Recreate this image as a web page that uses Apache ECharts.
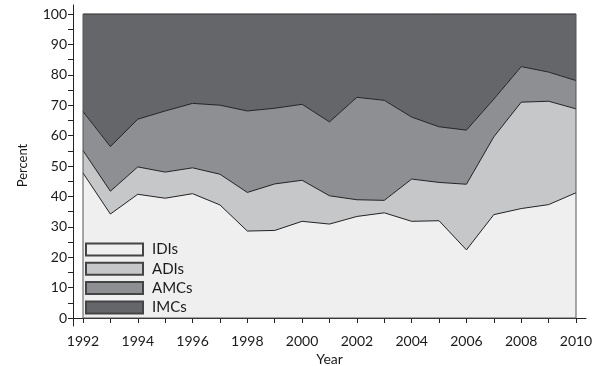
<!DOCTYPE html>
<html>
<head>
<meta charset="utf-8">
<script src="https://cdn.jsdelivr.net/npm/echarts@6/dist/echarts.min.js"></script>
<style>html,body{margin:0;padding:0;background:#fff;overflow:hidden}#c{width:604px;height:366px}</style>
</head>
<body>
<div id="c"></div>
<script>
const years = [1992,1993,1994,1995,1996,1997,1998,1999,2000,2001,2002,2003,2004,2005,2006,2007,2008,2009,2010];
const idis = [47.7,34.2,40.7,39.4,40.9,37.2,28.6,28.8,31.8,30.9,33.4,34.6,31.8,32.0,22.4,34.0,36.0,37.3,41.2];
const adis = [7.4,7.5,9.0,8.6,8.5,10.1,12.7,15.3,13.5,9.3,5.5,4.1,13.9,12.6,21.6,25.6,35.0,34.0,27.6];
const amcs = [12.8,14.7,15.7,20.1,21.2,22.7,26.8,24.9,25.0,24.3,33.7,32.9,20.4,18.3,17.8,12.4,11.7,9.6,9.3];
const imcs = [32.1,43.6,34.6,31.9,29.4,30.0,31.9,31.0,29.7,35.5,27.4,28.4,33.9,37.1,38.2,28.0,17.3,19.1,21.9];
const xTickValues = years;
const xLabelValues = [1992,1994,1996,1998,2000,2002,2004,2006,2008,2010];
const yTickValues = [0,5,10,15,20,25,30,35,40,45,50,55,60,65,70,75,80,85,90,95,100];
const yLabelValues = [0,10,20,30,40,50,60,70,80,90,100];

const FONT = 'Lato';
const colors = {IDIs:'#efefef', ADIs:'#c6c7c9', AMCs:'#8e8f92', IMCs:'#65666a'};

const gL = 83, gR = 576, gT = 14, gB = 318;
const aL = 73, aR = 586, aT = 5, aB = 326;
const pxYear = (gR - gL) / (years[years.length-1] - years[0]);
const pxPct = (gB - gT) / 100;
const axMin = years[0] - (gL - aL) / pxYear;
const axMax = years[years.length-1] + (aR - gR) / pxYear;
const ayMin = 0 - (aB - gB) / pxPct;
const ayMax = 100 + (gT - aT) / pxPct;

function mk(name, arr){
  return {
    name, type:'line', stack:'total', xAxisIndex:0, yAxisIndex:0,
    data: arr.slice(),
    symbol:'none', smooth:false,
    lineStyle:{color:'#222', width:1},
    areaStyle:{color:colors[name], opacity:1},
    itemStyle:{color:colors[name], borderColor:'#444', borderWidth:1.5},
    emphasis:{disabled:true}, silent:true, animation:false
  };
}

const gridBase = {containLabel:false, outerBoundsMode:'none'};
const chart = echarts.init(document.getElementById('c'), null, {renderer:'canvas'});
chart.setOption({
  animation:false,
  backgroundColor:'#fff',
  grid:[
    Object.assign({left:gL, top:gT, width:gR-gL, height:gB-gT, show:false}, gridBase),
    Object.assign({left:aL, top:aT, width:aR-aL, height:aB-aT, show:false}, gridBase),
    Object.assign({left:gL, top:gT, width:gR-gL, height:gB-gT, show:true, borderColor:'#555', borderWidth:1, backgroundColor:'transparent', z:10}, gridBase)
  ],
  xAxis:[
    {type:'category', gridIndex:0, data:years.map(String), boundaryGap:false, show:false},
    {type:'value', gridIndex:1, min:axMin, max:axMax,
      axisLine:{show:true, lineStyle:{color:'#222', width:1}},
      axisTick:{show:true, length:5, lineStyle:{color:'#222'}, customValues:xTickValues},
      axisLabel:{customValues:xLabelValues, color:'#1a1a1a', fontFamily:FONT, fontSize:14, margin:8, formatter:v=>String(v)},
      splitLine:{show:false},
      name:'Year', nameLocation:'middle', nameGap:24,
      nameTextStyle:{color:'#1a1a1a', fontFamily:FONT, fontSize:14}
    },
    {type:'value', gridIndex:2, min:0, max:1, show:false}
  ],
  yAxis:[
    {type:'value', gridIndex:0, min:0, max:100, show:false},
    {type:'value', gridIndex:1, min:ayMin, max:ayMax,
      axisLine:{show:true, lineStyle:{color:'#222', width:1}},
      axisTick:{show:true, length:5, lineStyle:{color:'#222'}, customValues:yTickValues},
      axisLabel:{customValues:yLabelValues, color:'#1a1a1a', fontFamily:FONT, fontSize:14, margin:6, formatter:v=>String(v)},
      splitLine:{show:false},
      name:'Percent', nameLocation:'middle', nameGap:44, nameRotate:90,
      nameTextStyle:{color:'#1a1a1a', fontFamily:FONT, fontSize:13}
    },
    {type:'value', gridIndex:2, min:0, max:1, show:false}
  ],
  legend:{
    show:true, orient:'vertical', left:85, top:242, padding:0,
    itemWidth:57, itemHeight:12, itemGap:4.3,
    icon:'rect',
    data:['IDIs','ADIs','AMCs','IMCs'],
    textStyle:{color:'#1a1a1a', fontFamily:FONT, fontSize:15, padding:[0,0,0,4]},
    selectedMode:false, z:12
  },
  series:[mk('IDIs', idis), mk('ADIs', adis), mk('AMCs', amcs), mk('IMCs', imcs)]
});
</script>
</body>
</html>
